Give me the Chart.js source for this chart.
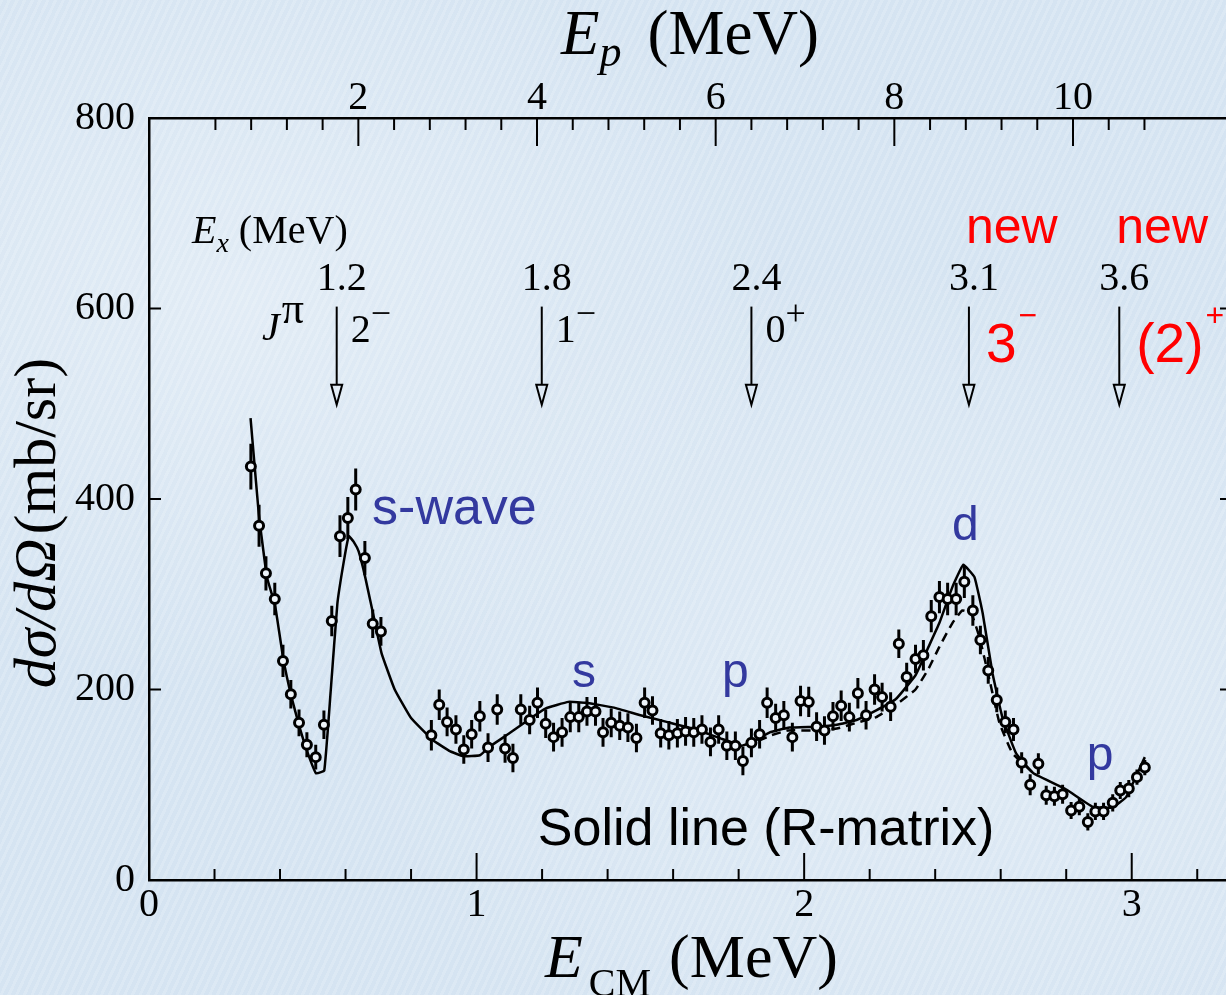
<!DOCTYPE html>
<html>
<head>
<meta charset="utf-8">
<script src="https://cdn.jsdelivr.net/npm/chart.js@4.4.1/dist/chart.umd.min.js"></script>
<style>
  html, body { margin: 0; padding: 0; overflow: hidden; }
  body {
    width: 1226px; height: 995px;
    background-color: #d8e6f3;
    background-image:
      radial-gradient(ellipse at 20% 30%, rgba(255,255,255,0.30), rgba(255,255,255,0) 40%),
      radial-gradient(ellipse at 75% 70%, rgba(255,255,255,0.25), rgba(255,255,255,0) 45%),
      repeating-linear-gradient(115deg, rgba(255,255,255,0.10) 0 3px, rgba(190,210,230,0.10) 3px 7px);
  }
  #wrap { width: 1226px; height: 995px; overflow: hidden; position: relative; }
  canvas { position: absolute; left: 0; top: 0; }
</style>
</head>
<body>
<div id="wrap"><canvas id="chart" width="1260" height="995"></canvas></div>
<script>
const SERIF = '"Liberation Serif", "Times New Roman", serif';
const SANS = '"Liberation Sans", Arial, sans-serif';
const BLUE = '#33399f';
const RED = '#ff0000';

// measured cross section, E_CM (MeV), dsigma/dOmega (mb/sr), error (mb/sr)
const dataE = [
  0.311, 0.336, 0.357, 0.384, 0.409, 0.433, 0.458, 0.482, 0.509, 0.534, 0.558, 0.583, 0.607, 0.631, 0.659, 0.683, 0.708,
  0.862, 0.886, 0.910, 0.937, 0.961, 0.985, 1.010, 1.035, 1.063, 1.087, 1.111, 1.135, 1.162, 1.186, 1.211, 1.235, 1.261,
  1.286, 1.312, 1.337, 1.363, 1.386, 1.411, 1.437, 1.462, 1.488, 1.513, 1.537, 1.562, 1.587, 1.613, 1.638, 1.663,
  1.688, 1.714, 1.739, 1.764, 1.790, 1.813, 1.839, 1.864, 1.887, 1.913, 1.938, 1.964, 1.989, 2.014, 2.038, 2.062,
  2.088, 2.113, 2.138, 2.164, 2.189, 2.215, 2.238, 2.264, 2.289, 2.313, 2.340, 2.364,
  2.388, 2.413, 2.438, 2.464, 2.489, 2.515, 2.538, 2.562, 2.588, 2.614, 2.639, 2.664, 2.690, 2.715, 2.739, 2.764,
  2.789, 2.815, 2.840, 2.866, 2.889, 2.914, 2.942, 2.965, 2.991, 3.016, 3.040
];
const dataY = [
  434, 372, 322, 295, 230, 195, 165, 142, 129, 163, 272, 361, 380, 410, 338, 269, 261,
  152, 184, 166, 158, 137, 153, 172, 139, 179, 138, 128, 179, 168, 186, 164, 150, 155,
  171, 171, 177, 177, 155, 165, 162, 160, 149, 186, 178, 154, 152, 154, 156, 155,
  158, 145, 158, 141, 141, 125, 144, 153, 186, 170, 173, 150, 188, 187, 161, 157,
  172, 183, 171, 196, 173, 200, 192, 182, 248, 213, 232, 236,
  277, 297, 295, 295, 313, 283, 252, 220, 189, 166, 158, 123, 100, 122, 89, 88,
  90, 73, 77, 61, 72, 72, 81, 94, 96, 108, 118
];
const dataErr = [
  24, 22, 18, 17, 17, 15, 14, 13, 13, 15, 16, 22, 22, 22, 18, 15, 15,
  16, 16, 15, 15, 15, 15, 16, 15, 16, 15, 15, 16, 15, 16, 15, 15, 15,
  16, 16, 15, 15, 15, 15, 15, 15, 15, 16, 15, 15, 15, 15, 15, 15,
  15, 15, 15, 15, 15, 15, 15, 15, 16, 15, 15, 15, 16, 16, 15, 15,
  15, 16, 15, 16, 15, 16, 15, 15, 15, 15, 15, 16,
  17, 17, 17, 17, 17, 16, 15, 14, 13, 12, 12, 11, 11, 11, 10, 10,
  10, 9, 9, 9, 9, 9, 9, 9, 9, 8, 8
];

// R-matrix fit (solid line)
const rmE = [
  0.310, 0.335, 0.360, 0.385, 0.410, 0.435, 0.460, 0.485, 0.510, 0.535,
  0.555, 0.575, 0.595, 0.610, 0.625, 0.640, 0.660, 0.690, 0.710, 0.750,
  0.800, 0.866, 0.920, 0.960, 1.010, 1.040, 1.100, 1.170, 1.210, 1.280,
  1.335, 1.420, 1.500, 1.580, 1.670, 1.750, 1.810, 1.855, 1.895, 1.955,
  2.040, 2.100, 2.160, 2.220, 2.280, 2.340, 2.380, 2.413, 2.453, 2.486,
  2.520, 2.545, 2.575, 2.605, 2.647, 2.700, 2.800, 2.880, 2.940, 2.983,
  3.040
];
const rmY = [
  485, 385, 318, 288, 232, 192, 160, 133, 112, 115,
  200, 290, 335, 361, 355, 345, 318, 270, 238, 200,
  170, 147, 135, 130, 131, 140, 154, 171, 180, 187,
  186, 181, 173, 166, 158, 148, 141, 147, 155, 160,
  161, 163, 168, 178, 190, 215, 245, 270, 308, 331,
  318, 280, 217, 171, 133, 112, 95, 77, 76, 87,
  129
];

// second calculation (dashed line)
const dashE = [1.860, 1.900, 1.950, 2.040, 2.100, 2.160, 2.220, 2.280, 2.340, 2.380, 2.413, 2.453, 2.483, 2.510, 2.535, 2.566, 2.596, 2.636, 2.700];
const dashY = [146, 152, 157, 157, 159, 165, 171, 184, 200, 222, 245, 270, 283, 280, 255, 210, 165, 133, 112];

// levels marked by arrows
const levelE = [0.573, 1.199, 1.839, 2.503, 2.962];
const levelEx = ['1.2', '1.8', '2.4', '3.1', '3.6'];
const levelJ = ['2', '1', '0', '3', '(2)'];
const levelParity = ['\u2212', '\u2212', '+', '\u2212', '+'];
const levelNew = [false, false, false, true, true];
const ARROW_TOP = 602, ARROW_TIP = 499;

// wave labels
const noteText = ['s-wave', 's', 'p', 'd', 'p'];
const noteE = [0.681, 1.291, 1.749, 2.451, 2.863];
const noteY = [374, 203, 203, 357, 116];

// axes
const ecmTicks = [0, 1, 2, 3];
const epTicks = [2, 4, 6, 8, 10];
const yTicks = [0, 200, 400, 600, 800];
// E_p = (E_CM - EP_OFFSET) / EP_SLOPE
const EP_OFFSET = 0.0937;
const EP_SLOPE = 0.2727;
const toEp = e => (e - EP_OFFSET) / EP_SLOPE;
const X_MAX = 3.3;

function rich(ctx, x, y, parts, align) {
  let w = 0;
  parts.forEach(p => { ctx.font = p.f; w += (p.dx || 0) + ctx.measureText(p.t).width; });
  let cx = align === 'center' ? x - w / 2 : x;
  ctx.textAlign = 'left';
  ctx.textBaseline = 'alphabetic';
  parts.forEach(p => {
    ctx.font = p.f;
    ctx.fillStyle = p.c || '#000';
    cx += p.dx || 0;
    ctx.fillText(p.t, cx, y + (p.dy || 0));
    cx += ctx.measureText(p.t).width;
  });
}

function seg(ctx, x1, y1, x2, y2) {
  ctx.beginPath(); ctx.moveTo(x1, y1); ctx.lineTo(x2, y2); ctx.stroke();
}

const decor = {
  id: 'decor',
  beforeDatasetDraw(chart, args) {
    if (args.index !== 0) return;
    const { ctx, scales: { x, y } } = chart;
    ctx.save();
    ctx.strokeStyle = '#000';
    ctx.lineWidth = 3;
    ctx.beginPath();
    dataE.forEach((e, i) => {
      const px = x.getPixelForValue(e);
      ctx.moveTo(px, y.getPixelForValue(dataY[i] - dataErr[i]));
      ctx.lineTo(px, y.getPixelForValue(dataY[i] + dataErr[i]));
    });
    ctx.stroke();
    ctx.restore();
  },
  afterDraw(chart) {
    const { ctx, chartArea: a, scales: { x, y, xTop } } = chart;
    ctx.save();
    ctx.strokeStyle = '#000';
    ctx.lineWidth = 2;

    // inward tick marks
    for (let k = 1; k <= 16; k++) {
      const px = x.getPixelForValue(k * 0.2);
      seg(ctx, px, a.bottom, px, a.bottom - (k % 5 === 0 ? 27 : 11));
    }
    for (let k = 1; k <= 27; k++) {
      const px = xTop.getPixelForValue(k * 0.4);
      seg(ctx, px, a.top, px, a.top + (k % 5 === 0 ? 28 : 12));
    }
    [200, 400, 600].forEach(v => {
      const py = y.getPixelForValue(v);
      seg(ctx, a.left, py, a.left + 12, py);
      seg(ctx, a.right, py, a.right - 10, py);
    });

    // axis titles
    rich(ctx, 561, 54, [
      { t: 'E', f: 'italic 63px ' + SERIF },
      { t: 'p', f: 'italic 44px ' + SERIF, dy: 12 },
      { t: '(MeV)', f: '63px ' + SERIF, dx: 26 }
    ], 'left');
    rich(ctx, 545, 977, [
      { t: 'E', f: 'italic 62px ' + SERIF },
      { t: 'CM', f: '40px ' + SERIF, dx: 6, dy: 19 },
      { t: '(MeV)', f: '62px ' + SERIF, dx: 18 }
    ], 'left');
    ctx.save();
    ctx.translate(55, 523);
    ctx.rotate(-Math.PI / 2);
    rich(ctx, 0, 0, [
      { t: 'd\u03c3/d\u03a9', f: 'italic 60px ' + SERIF },
      { t: '(mb/sr)', f: '60px ' + SERIF, dx: 4 }
    ], 'center');
    ctx.restore();

    // level arrows and labels
    rich(ctx, 192, 243, [
      { t: 'E', f: 'italic 40px ' + SERIF },
      { t: 'x', f: 'italic 28px ' + SERIF, dy: 9 },
      { t: '(MeV)', f: '40px ' + SERIF, dx: 10 }
    ], 'left');
    rich(ctx, 262, 340, [
      { t: 'J', f: 'italic 40px ' + SERIF },
      { t: '\u03c0', f: '44px ' + SERIF, dx: 2, dy: -17 }
    ], 'left');

    const top = y.getPixelForValue(ARROW_TOP);
    const tip = y.getPixelForValue(ARROW_TIP);
    levelE.forEach((e, i) => {
      const px = x.getPixelForValue(e);
      ctx.lineWidth = 2;
      ctx.strokeStyle = '#000';
      seg(ctx, px, top, px, tip - 20);
      ctx.beginPath();
      ctx.moveTo(px - 5.5, tip - 20);
      ctx.lineTo(px + 5.5, tip - 20);
      ctx.lineTo(px, tip);
      ctx.closePath();
      ctx.stroke();

      rich(ctx, px + 5, top - 17, [{ t: levelEx[i], f: '40px ' + SERIF }], 'center');
      if (levelNew[i]) {
        rich(ctx, px - 3, top - 64, [{ t: 'new', f: '50px ' + SANS, c: RED }], 'left');
        rich(ctx, px + 17, top + 55, [
          { t: levelJ[i], f: '55px ' + SANS, c: RED },
          { t: levelParity[i], f: '32px ' + SANS, c: RED, dx: 2, dy: -36 }
        ], 'left');
      } else {
        rich(ctx, px + 14, top + 35, [
          { t: levelJ[i], f: '40px ' + SERIF },
          { t: levelParity[i], f: '36px ' + SERIF, dy: -17 }
        ], 'left');
      }
    });

    noteText.forEach((t, i) => {
      rich(ctx, x.getPixelForValue(noteE[i]), y.getPixelForValue(noteY[i]),
        [{ t: t, f: (i === 0 ? '52px ' : '48px ') + SANS, c: BLUE }], 'left');
    });
    rich(ctx, x.getPixelForValue(1.187), y.getPixelForValue(37),
      [{ t: 'Solid line (R-matrix)', f: '52px ' + SANS }], 'left');
    ctx.restore();
  }
};

const tickFont = { family: SERIF, size: 40, lineHeight: 1 };
const border = { display: true, color: '#000', width: 2.5 };

new Chart(document.getElementById('chart'), {
  type: 'scatter',
  data: {
    datasets: [
      {
        data: dataE.map((e, i) => ({ x: e, y: dataY[i] })),
        pointRadius: 4.5,
        pointBorderWidth: 3,
        pointBorderColor: '#000',
        pointBackgroundColor: '#eef4fa',
        showLine: false
      },
      {
        data: rmE.map((e, i) => ({ x: e, y: rmY[i] })),
        showLine: true,
        borderColor: '#000',
        borderWidth: 2.5,
        pointRadius: 0,
        tension: 0.1
      },
      {
        data: dashE.map((e, i) => ({ x: e, y: dashY[i] })),
        showLine: true,
        borderColor: '#000',
        borderWidth: 2.5,
        borderDash: [9, 6],
        pointRadius: 0,
        tension: 0.1
      }
    ]
  },
  options: {
    responsive: false,
    animation: false,
    devicePixelRatio: 1,
    layout: { padding: 0 },
    plugins: { legend: { display: false }, tooltip: { enabled: false } },
    scales: {
      x: {
        type: 'linear', position: 'bottom', min: 0, max: X_MAX,
        afterBuildTicks: s => { s.ticks = ecmTicks.map(v => ({ value: v })); },
        afterFit: s => { s.height = 115; },
        grid: { display: false, drawTicks: false },
        border: border,
        ticks: { font: tickFont, color: '#000', padding: 5, maxRotation: 0, autoSkip: false, callback: v => String(v) }
      },
      xTop: {
        axis: 'x', type: 'linear', position: 'top', min: toEp(0), max: toEp(X_MAX),
        afterBuildTicks: s => { s.ticks = epTicks.map(v => ({ value: v })); },
        afterFit: s => { s.height = 118; },
        grid: { display: false, drawTicks: false },
        border: border,
        ticks: { font: tickFont, color: '#000', padding: 0, maxRotation: 0, autoSkip: false, callback: v => String(v) }
      },
      y: {
        type: 'linear', position: 'left', min: 0, max: 800,
        afterBuildTicks: s => { s.ticks = yTicks.map(v => ({ value: v })); },
        afterFit: s => { s.width = 149; },
        grid: { display: false, drawTicks: false },
        border: border,
        ticks: { font: tickFont, color: '#000', padding: 14, autoSkip: false, callback: v => String(v) }
      },
      y2: {
        axis: 'y', type: 'linear', position: 'right', min: 0, max: 800,
        afterFit: s => { s.width = 30; },
        grid: { display: false, drawTicks: false },
        border: border,
        ticks: { display: false }
      }
    }
  },
  plugins: [decor]
});
</script>
</body>
</html>
